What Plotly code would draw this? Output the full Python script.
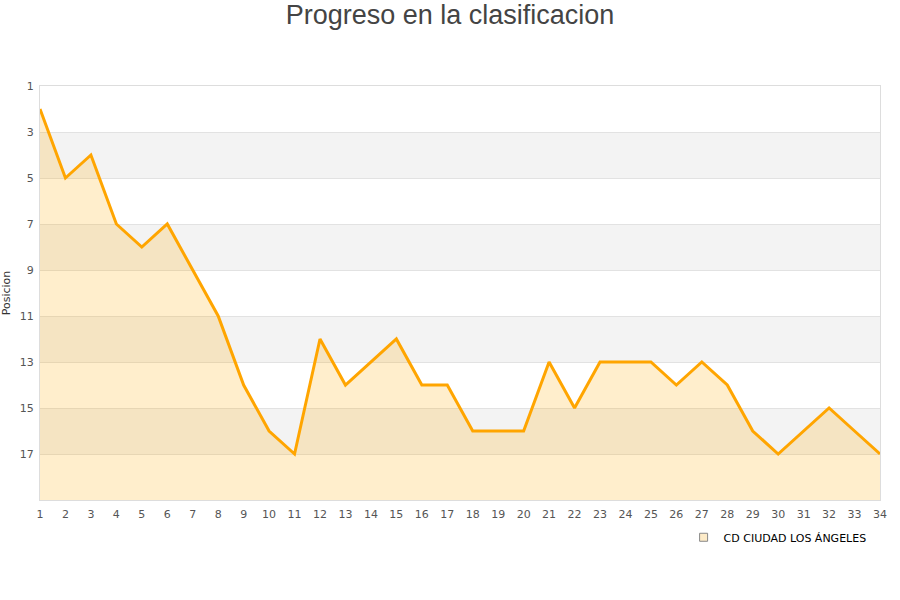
import plotly.graph_objects as go

jornadas = list(range(1, 35))
posiciones = [2, 5, 4, 7, 8, 7, 9, 11, 14, 16, 17, 12, 14, 13, 12, 14, 14, 16, 16, 16,
              13, 15, 13, 13, 13, 14, 13, 14, 16, 17, 16, 15, 16, 17]
equipo = "CD CIUDAD LOS ÁNGELES"
y_ticks = [1, 3, 5, 7, 9, 11, 13, 15, 17]
bands = [(3, 5), (7, 9), (11, 13), (15, 17)]

fig = go.Figure()
fig.add_trace(go.Scatter(x=jornadas, y=[19] * len(jornadas), mode="lines",
                         line=dict(width=0), showlegend=False, hoverinfo="skip"))
fig.add_trace(go.Scatter(x=jornadas, y=posiciones, mode="lines", fill="tonexty",
                         fillcolor="rgba(255,170,0,0.2)",
                         line=dict(color="#FFA500", width=3), showlegend=False))
fig.add_trace(go.Scatter(x=[None], y=[None], mode="markers", name=equipo,
                         marker=dict(symbol="square", size=8, color="#FDEBC8",
                                     line=dict(color="#888", width=1))))

for a, b in bands:
    fig.add_shape(type="rect", xref="paper", x0=0, x1=1, yref="y", y0=a, y1=b,
                  fillcolor="#F3F3F3", line=dict(width=0), layer="below")

fig.update_layout(
    width=900, height=600,
    paper_bgcolor="white", plot_bgcolor="white",
    margin=dict(l=40, r=20, t=86, b=100),
    title=dict(text="Progreso en la clasificacion", x=0.5, xanchor="center",
               y=0.975, yanchor="middle",
               font=dict(family="Liberation Sans, Arial", size=27, color="#444")),
    font=dict(family="DejaVu Sans, Arial", size=11, color="#555"),
    xaxis=dict(range=[1, 34], tickmode="array", tickvals=jornadas, showgrid=False,
               zeroline=False, showline=True, linecolor="#ddd", mirror=True,
               ticks="", tickfont=dict(size=11, color="#555"), automargin=False,
               ticklabelstandoff=4),
    yaxis=dict(range=[19, 1], tickmode="array", tickvals=y_ticks, showgrid=True,
               gridcolor="#E2E2E2", zeroline=False, showline=True, linecolor="#ddd",
               mirror=True, ticks="", tickfont=dict(size=11, color="#555"),
               automargin=False, ticklabelstandoff=3,
               title=dict(text="Posicion", font=dict(size=11, color="#333"), standoff=8)),
    legend=dict(x=0.99, y=-0.055, xanchor="right", yanchor="top",
                font=dict(size=11, color="#000"), bgcolor="rgba(0,0,0,0)"),
    showlegend=True,
)

fig.write_html("out.html", post_script="document.body.style.margin='0';",
               config={"displayModeBar": False})
